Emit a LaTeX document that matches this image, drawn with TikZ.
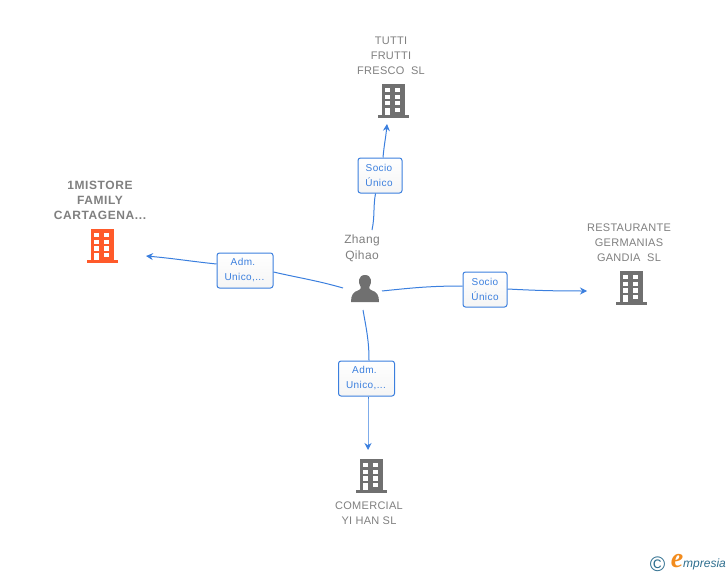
\documentclass[tikz,border=0pt]{standalone}
\usepackage{fontspec}
\setmainfont{Liberation Sans}
\newfontfamily\logofont{Liberation Serif}
\definecolor{linkblue}{HTML}{3B7FDE}
\definecolor{textgray}{HTML}{7F7F7F}
\definecolor{icongray}{HTML}{707070}
\definecolor{iconorange}{HTML}{FF5A2A}
\definecolor{logoblue}{HTML}{2F6F8F}
\definecolor{logoorange}{HTML}{F28C1E}
\usetikzlibrary{arrows.meta}
\tikzset{
	name label/.style={font=\fontsize{11}{15}\selectfont\addfontfeature{LetterSpace=2.5}, text=textgray, align=center, inner sep=0pt},
	link box/.style={draw=linkblue, line width=1pt, rounded corners=2.5pt, top color=white, bottom color=white!96!black, text=linkblue, font=\fontsize{10}{15}\selectfont\addfontfeature{LetterSpace=4}, align=center, inner sep=0pt, minimum height=35pt, execute at begin node=\rule{0pt}{10pt}},
	link/.style={draw=linkblue, line width=1pt},
	pics/building/.style={code={
		\fill[#1] (-11.5,-34) rectangle (11.5,-2);
		\fill[#1] (-15.5,-3) rectangle (15.5,0);
		\foreach \col in {-8.2,1.8}
			\foreach \row in {-30,-23.3,-16.7}
				\fill[white] (\col,\row) rectangle ++(5,4.2);
		\fill[white] (-8.2,-10) rectangle (-3.2,-3);
		\fill[white] (1.8,-10) rectangle (6.8,-6);
	}}
}
\begin{document}
\begin{tikzpicture}[x=1pt, y=-1pt, >={Stealth[length=7pt,width=7pt]}]
	\useasboundingbox (0,0) rectangle (728,575);
	% buildings
	\pic at (102,263) {building=iconorange};
	\pic at (393.5,118) {building=icongray};
	\pic at (631,305) {building=icongray};
	\pic at (371,493) {building=icongray};
	% person
	\fill[icongray] (351,302) .. controls (351,295) and (353,292) .. (359,290) .. controls (361,289) and (361,288) .. (360.5,286.5) .. controls (358,283) and (358,275) .. (365,275) .. controls (372,275) and (372,283) .. (369.5,286.5) .. controls (369,288) and (369,289) .. (371,290) .. controls (377,292) and (379,295) .. (379,302) -- cycle;
	% labels
	\node[name label, font=\fontsize{12}{15}\selectfont\bfseries\addfontfeature{LetterSpace=5}] (mistore) at (100,200.5) {1MISTORE\\FAMILY\\CARTAGENA...};
	\node[name label] (tutti) at (391,55.5) {TUTTI\\FRUTTI\\FRESCO\ \ SL};
	\node[name label] (restaurante) at (629,242.5) {RESTAURANTE\\GERMANIAS\\GANDIA\ \ SL};
	\node[name label] (comercial) at (369,513.5) {COMERCIAL\\YI HAN SL};
	\node[name label, font=\fontsize{12}{15.5}\selectfont\addfontfeature{LetterSpace=3}] (zhang) at (362,248.5) {Zhang\\Qihao};
	% connector ends
	\coordinate (startL) at (343,288);
	\coordinate (endL) at (146,256);
	\coordinate (startT) at (372,230);
	\coordinate (endT) at (387,124);
	\coordinate (startR) at (382,291);
	\coordinate (endR) at (587,291);
	\coordinate (startB) at (363,310);
	\coordinate (endB) at (368,450);
	% boxes
	\node[link box, minimum width=56pt] (admL) at (245,270.5) {Adm.\kern4pt\\Unico,...\kern1pt};
	\node[link box, minimum width=44pt] (socioT) at (380,175.5) {Socio\kern2pt\\Único\kern2pt};
	\node[link box, minimum width=44pt] (socioR) at (485,289.5) {Socio\\Único};
	\node[link box, minimum width=56pt] (admB) at (366.5,378.5) {Adm.\kern4pt\\Unico,...\kern1pt};
	% connectors
	\draw[link] (startL) to[out=164, in=-13] (admL.east |- 0,272);
	\draw[link, ->] (admL.west |- 0,264) to[out=174, in=-5] (endL);
	\draw[link] (startT) to[out=78, in=-100] (socioT.south -| 375.5,0);
	\draw[link, ->] (socioT.north -| 383,0) to[out=85, in=-95] (endT);
	\draw[link] (startR) to[out=6, in=180] (socioR.west |- 0,286);
	\draw[link, ->] (socioR.east |- 0,289) to[out=-3, in=180] (endR);
	\draw[link] (startB) to[out=-80, in=90] (admB.north -| 369,0);
	\draw[link, ->] (admB.south -| 368,0) to[out=-90, in=90] (endB);
	% logo
	\node[inner sep=0pt, text=logoblue, font=\fontsize{21}{21}\selectfont] (copyr) at (657.5,564) {©};
	\node[inner sep=0pt, text=logoorange, font=\logofont\fontsize{28}{28}\selectfont\bfseries\itshape] (logoe) at (677,561) {e};
	\node[inner sep=0pt, text=logoblue, font=\fontsize{12}{12}\selectfont\itshape, anchor=west] (logotxt) at (683,564) {mpresia};
\end{tikzpicture}
\end{document}
